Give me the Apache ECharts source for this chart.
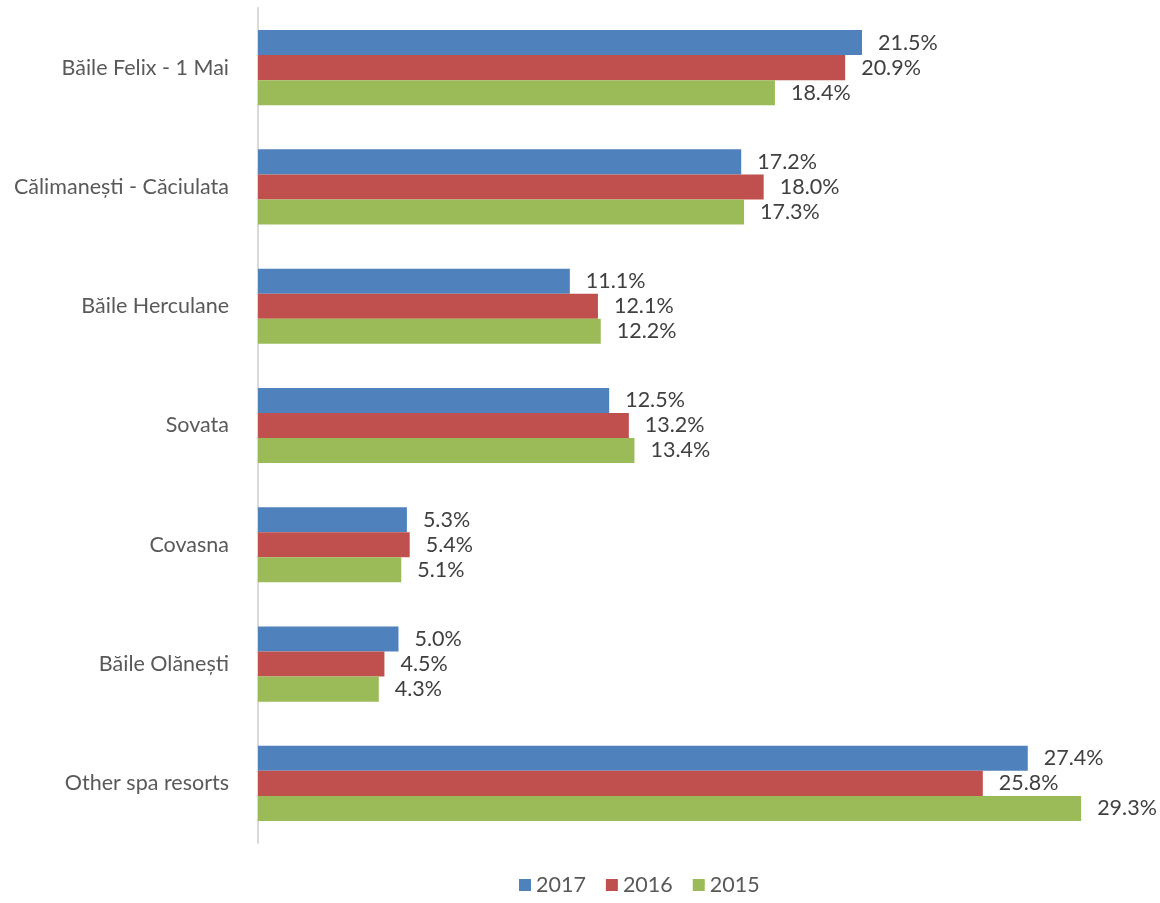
<!DOCTYPE html>
<html>
<head>
<meta charset="utf-8">
<script src="https://cdn.jsdelivr.net/npm/echarts@6/dist/echarts.min.js"></script>
<style>html,body{margin:0;padding:0;background:#fff;}#c{width:1160px;height:903px;}</style>
</head>
<body>
<div id="c"></div>
<script>
var categories = ["Băile Felix - 1 Mai", "Călimanești - Căciulata", "Băile Herculane", "Sovata", "Covasna", "Băile Olănești", "Other spa resorts"];
var seriesNames = ["2017", "2016", "2015"];
var values2017 = [21.5, 17.2, 11.1, 12.5, 5.3, 5.0, 27.4];
var values2016 = [20.9, 18.0, 12.1, 13.2, 5.4, 4.5, 25.8];
var values2015 = [18.4, 17.3, 12.2, 13.4, 5.1, 4.3, 29.3];
var colors = ["#4F81BD", "#C0504D", "#9BBB59"];

var font = "Lato, 'Open Sans', sans-serif";
var data = [values2017, values2016, values2015];
var chart = echarts.init(document.getElementById('c'));
chart.setOption({
  animation: false,
  color: colors,
  grid: {left: 258, right: 3, top: 8, bottom: 60, containLabel: false},
  legend: {
    left: 514, bottom: 2, itemWidth: 12, itemHeight: 12, itemGap: 20,
    icon: 'rect',
    textStyle: {color: '#595959', fontSize: 21.5, fontFamily: font},
    data: seriesNames
  },
  xAxis: {type: 'value', min: 0, max: 32, show: false},
  yAxis: {
    type: 'category', data: categories, inverse: true,
    axisLine: {show: true, lineStyle: {color: '#D9D9D9', width: 2}},
    axisTick: {show: false},
    axisLabel: {color: '#595959', fontSize: 21.5, fontFamily: font, margin: 29}
  },
  series: data.map(function (d, i) {
    return {
      name: seriesNames[i], type: 'bar', data: d,
      barGap: '0%', barCategoryGap: '37%',
      label: {
        show: true, position: 'right', distance: 16,
        color: '#404040', fontSize: 21.5, fontFamily: font,
        formatter: function (p) { return p.value.toFixed(1) + '%'; }
      }
    };
  })
});
</script>
</body>
</html>
